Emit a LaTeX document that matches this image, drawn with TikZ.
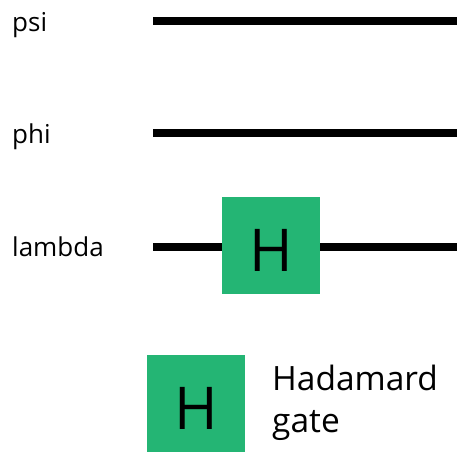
\documentclass[tikz,border=0pt]{standalone}
\usepackage{fontspec}
\setmainfont{Open Sans}
\definecolor{hgreen}{RGB}{36,181,116}
\begin{document}
\begin{tikzpicture}[x=1pt,y=-1pt,
  wire/.style={line width=8pt},
  lbl/.style={anchor=base west,inner sep=0pt,font=\fontsize{26}{30}\selectfont},
  gate/.style={fill=hgreen,draw=none,minimum width=98pt,minimum height=97pt,inner sep=0pt,text height=51pt,text depth=0pt,font=\fontsize{59}{60}\selectfont}]
\useasboundingbox (0,0) rectangle (457,453);
\node[lbl] (lpsi) at (12,31) {psi};
\node[lbl] (lphi) at (12,143) {phi};
\node[lbl] (llam) at (12,256) {lambda};
\coordinate (psiA) at (153,21); \coordinate (psiB) at (457,21);
\coordinate (phiA) at (153,133); \coordinate (phiB) at (457,133);
\coordinate (lamA) at (153,247); \coordinate (lamB) at (457,247);
\draw[wire] (psiA) -- (psiB);
\draw[wire] (phiA) -- (phiB);
\draw[wire] (lamA) -- (lamB);
\node[gate] (h1) at (271,245.5) {H};
\node[gate] (h2) at (196,403.5) {H};
\node[anchor=base west,inner sep=0pt,font=\fontsize{33.5}{42}\selectfont] (txt1) at (272,390) {Hadamard};
\node[anchor=base west,inner sep=0pt,font=\fontsize{33.5}{42}\selectfont] (txt2) at (272,432) {gate};
\end{tikzpicture}
\end{document}
